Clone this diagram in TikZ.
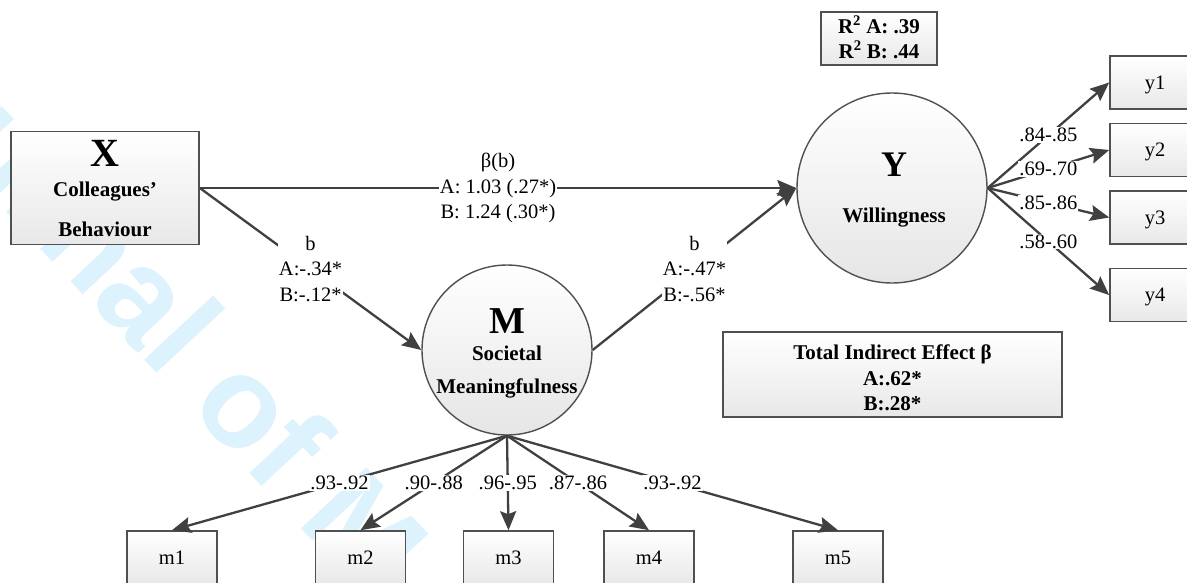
\documentclass[tikz,border=0pt]{standalone}
\usepackage{fontspec}
\setmainfont{Liberation Serif}
\newfontfamily\wmfont{Liberation Sans}
\usetikzlibrary{arrows.meta,calc}

\definecolor{edgegray}{HTML}{404040}
\definecolor{framegray}{HTML}{505050}
\definecolor{wmblue}{RGB}{220,242,252}

\tikzset{
  box/.style={draw=framegray, line width=1.6pt, top color=white, bottom color=black!9,
    minimum width=90pt, minimum height=53pt, inner sep=0pt, text depth=0pt,
    font=\fontsize{20.5}{25}\selectfont},
  latent/.style={circle, draw=framegray, line width=1.4pt, top color=white,
    bottom color=black!10, inner sep=0pt},
  link/.style={draw=edgegray, line width=2.3pt, -{Stealth[length=19pt,width=16pt,inset=3pt]}},
  coef/.style={fill=white, inner sep=1pt, align=center, font=\fontsize{20.5}{25.5}\selectfont},
  heading/.style={font=\bfseries\fontsize{21}{25}\selectfont, anchor=base, inner sep=0pt},
  bigletter/.style={font=\bfseries\fontsize{38}{38}\selectfont, anchor=base, inner sep=0pt},
  wm/.style={text=wmblue, font=\wmfont\bfseries\fontsize{130}{130}\selectfont,
    inner sep=0pt, anchor=base west},
}

\begin{document}
\begin{tikzpicture}[x=1pt, y=-1pt]
\useasboundingbox (0,0) rectangle (1187,582);
\clip (0,0) rectangle (1187,582);
\fill[white] (0,0) rectangle (1187,582);

% journal watermark
\node[wm, rotate=-47] (mark) at (-157.6,36.5) {Journal of M};

% constructs
\node[draw=framegray, line width=1.6pt, top color=white, bottom color=black!9,
      minimum width=188pt, minimum height=113pt, inner sep=0pt] (X) at (105,188) {};
\node[latent, minimum size=190pt] (Y) at (892,188) {};
\node[latent, minimum size=170pt] (M) at (507,350) {};

\node[bigletter, font=\bfseries\fontsize{40}{40}\selectfont] (xl) at (105,166.7) {X};
\node[heading] (xa) at (105,196.7) {Colleagues’};
\node[heading] (xb) at (105,236) {Behaviour};

\node[bigletter, font=\bfseries\fontsize{36}{36}\selectfont] (yl) at (894,176.7) {Y};
\node[heading] (ya) at (894,222.7) {Willingness};

\node[bigletter] (ml) at (507,333.3) {M};
\node[heading] (ma) at (507,360) {Societal};
\node[heading] (mb) at (507,393.3) {Meaningfulness};

% summary boxes
\node[draw=framegray, line width=1.6pt, top color=white, bottom color=black!9,
      minimum width=116pt, minimum height=53pt, inner sep=0pt] (rsq) at (879,38.5) {};
\node[heading] (rsqa) at (879,33.3) {R\textsuperscript{2} A: .39};
\node[heading] (rsqb) at (879,58.3) {R\textsuperscript{2} B: .44};

\node[draw=framegray, line width=1.6pt, top color=white, bottom color=black!9,
      minimum width=339pt, minimum height=85pt, inner sep=0pt] (tie) at (892.5,374.5) {};
\node[heading] (tiea) at (892.5,359.3) {Total Indirect Effect β};
\node[heading] (tieb) at (892.5,385.5) {A:.62*};
\node[heading] (tiec) at (892.5,410) {B:.28*};

% indicators
\node[box] (y1) at (1155,82.5) {y1};
\node[box] (y2) at (1155,150) {y2};
\node[box] (y3) at (1155,217.5) {y3};
\node[box] (y4) at (1155,295) {y4};

\node[box] (m1) at (172,557.5) {m1};
\node[box] (m2) at (360.5,557.5) {m2};
\node[box] (m3) at (508.5,557.5) {m3};
\node[box] (m4) at (649,557.5) {m4};
\node[box] (m5) at (838,557.5) {m5};

% paths
\draw[link] (X.east) -- (Y.west);
\draw[link] (X.east) -- (M.west);
\draw[link] (M.east) -- (Y.west);
\foreach \t in {y1,y2,y3,y4} \draw[link] (Y.east) -- (\t.west);
\foreach \t in {m1,m2,m3,m4,m5} \draw[link] (M.south) -- (\t.north);

% coefficients
\path (X.east) -- (Y.west) node[coef, midway] (cxy) {β(b)\\A: 1.03 (.27*)\\B: 1.24 (.30*)};
\path (X.east) -- (M.west) node[coef, midway] (cxm) {b\\A:-.34*\\B:-.12*};
\path (M.east) -- (Y.west) node[coef, midway] (cmy) {b\\A:-.47*\\B:-.56*};

\path (Y.east) -- (y1.west) node[coef, midway] (l1) {.84-.85};
\path (Y.east) -- (y2.west) node[coef, midway] (l2) {.69-.70};
\path (Y.east) -- (y3.west) node[coef, midway] (l3) {.85-.86};
\path (Y.east) -- (y4.west) node[coef, midway] (l4) {.58-.60};

\path (M.south) -- (m1.north) node[coef, midway] (k1) {.93-.92};
\path (M.south) -- (m2.north) node[coef, midway] (k2) {.90-.88};
\path (M.south) -- (m3.north) node[coef, midway] (k3) {.96-.95};
\path (M.south) -- (m4.north) node[coef, midway] (k4) {.87-.86};
\path (M.south) -- (m5.north) node[coef, midway] (k5) {.93-.92};
\end{tikzpicture}
\end{document}
